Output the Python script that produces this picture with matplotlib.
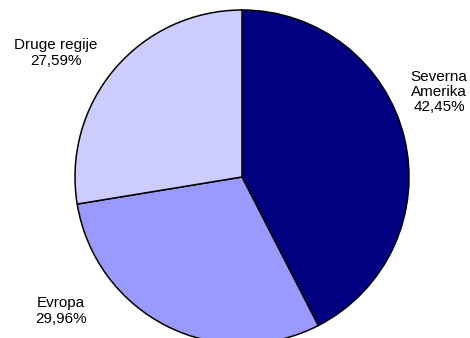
import matplotlib
matplotlib.use('Agg')
import matplotlib.pyplot as plt

plt.rcParams['font.family'] = ['Liberation Sans', 'DejaVu Sans']

# Data
regions = ['Severna\nAmerika', 'Evropa', 'Druge regije']
shares = [42.45, 29.96, 27.59]
colors = ['#000080', '#9999FF', '#CCCCFF']

W, H = 470, 338
fig = plt.figure(figsize=(W / 100, H / 100), dpi=100)

cx, cy, r = 242, 177, 167
ax = fig.add_axes([(cx - r) / W, (H - cy - r) / H, 2 * r / W, 2 * r / H])
ax.pie(shares, colors=colors, startangle=90, counterclock=False,
       wedgeprops=dict(edgecolor='black', linewidth=1.1), radius=1)
ax.set_xlim(-1, 1)
ax.set_ylim(-1, 1)
ax.set_aspect('equal')
ax.axis('off')

def fmt(v):
    return f'{v:.2f}%'.replace('.', ',')

# label positions in pixel coordinates (x, y from top)
label_pos = [(439, 92), (61, 311), (56, 53)]
for name, val, (px, py) in zip(regions, shares, label_pos):
    fig.text(px / W, 1 - py / H, f'{name}\n{fmt(val)}', ha='center', va='center',
             fontsize=11, linespacing=1.1)

fig.savefig('out.png', dpi=100)
